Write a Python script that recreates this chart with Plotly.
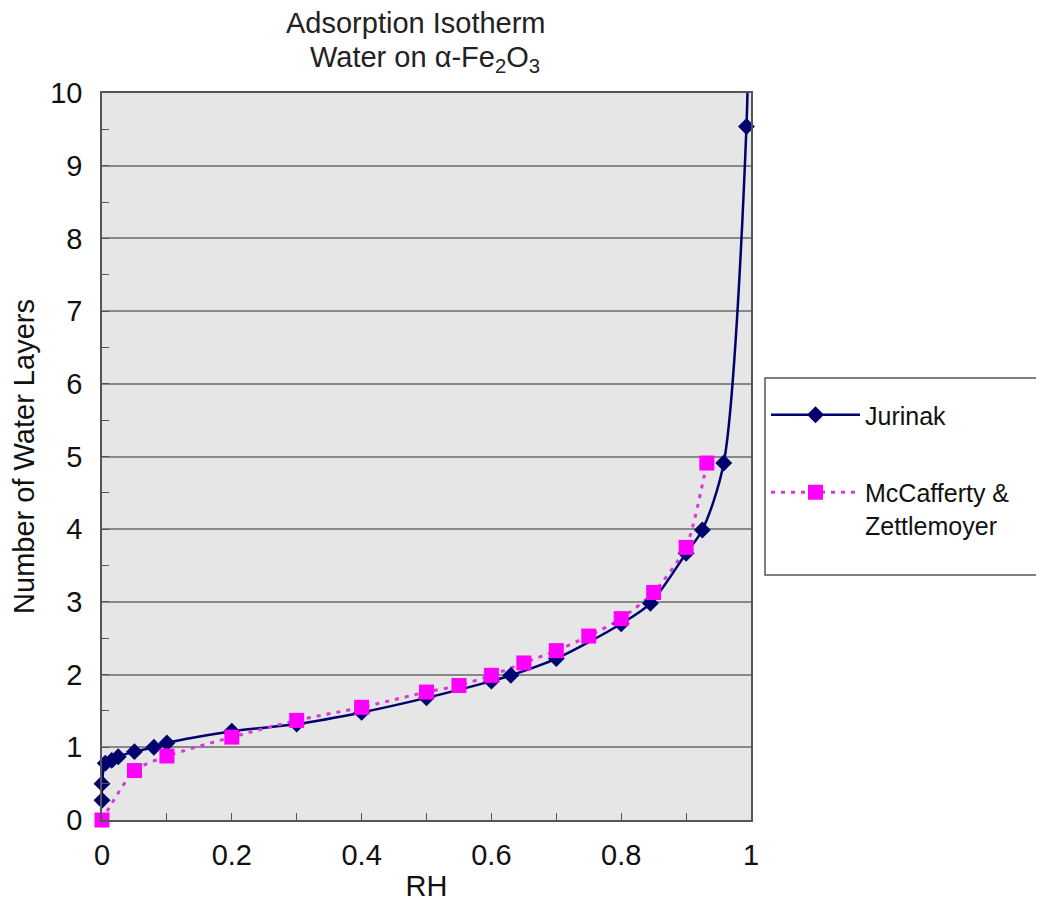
import plotly.graph_objects as go

# Jurinak data
jur_rh = [0.0, 0.0, 0.005, 0.015, 0.025, 0.05, 0.08, 0.1, 0.2, 0.3, 0.4, 0.5,
          0.6, 0.63, 0.7, 0.8, 0.845, 0.9, 0.925, 0.958, 0.993, 0.997]
jur_layers = [0.27, 0.5, 0.78, 0.82, 0.87, 0.94, 1.0, 1.06, 1.22, 1.32, 1.48, 1.68,
              1.91, 1.99, 2.22, 2.7, 2.98, 3.67, 3.99, 4.91, 9.54, 13.0]

# McCafferty & Zettlemoyer data
mcz_rh = [0.0, 0.05, 0.1, 0.2, 0.3, 0.4, 0.5, 0.55, 0.6, 0.65, 0.7, 0.75,
          0.8, 0.85, 0.9, 0.932]
mcz_layers = [0.0, 0.68, 0.88, 1.14, 1.37, 1.55, 1.76, 1.85, 1.99, 2.16, 2.33, 2.53,
              2.77, 3.13, 3.75, 4.91]

x_ticks = [0, 0.2, 0.4, 0.6, 0.8, 1]
x_ticklabels = ["0", "0.2", "0.4", "0.6", "0.8", "1"]
y_ticks = list(range(0, 11))
Y_MAX = 10

title_lines = ["Adsorption Isotherm", "Water on α-Fe<sub>2</sub>O<sub>3</sub>"]

FONT = "Liberation Sans, Arial, sans-serif"
NAVY = "#00006e"
MAG = "#ff00ff"
MAG_LINE = "#d838d8"

# page has an 8px body margin; figure is sized to fill the rest of the window
OFF = 8
W, H = 1044 - OFF, 907 - OFF
# plot-area geometry in page px
L, R, T, B = 102, 751, 93, 820
PW, PH = R - L, B - T


def px_x(p):
    return (p - L) / PW


def px_y(p):
    return (B - p) / PH


jur_vis = [(x, y) for x, y in zip(jur_rh, jur_layers) if y <= Y_MAX]

fig = go.Figure()
# Jurinak smoothed line (clipped to plot area)
fig.add_trace(go.Scatter(
    x=jur_rh, y=jur_layers, mode="lines", showlegend=False, hoverinfo="skip",
    line=dict(color=NAVY, width=2.5, shape="spline", smoothing=0.8),
))
# McCafferty dotted line
fig.add_trace(go.Scatter(
    x=mcz_rh, y=mcz_layers, mode="lines", showlegend=False, hoverinfo="skip",
    line=dict(color=MAG_LINE, width=3, dash="4px,6px", shape="spline", smoothing=0.6),
))
# markers (not clipped at the axes)
fig.add_trace(go.Scatter(
    x=[p[0] for p in jur_vis], y=[p[1] for p in jur_vis], mode="markers",
    showlegend=False, cliponaxis=False,
    marker=dict(symbol="diamond", size=13, color=NAVY),
))
fig.add_trace(go.Scatter(
    x=mcz_rh, y=mcz_layers, mode="markers", showlegend=False, cliponaxis=False,
    marker=dict(symbol="square", size=15, color=MAG),
))
# legend entries
fig.add_trace(go.Scatter(
    x=[None], y=[None], name="Jurinak", mode="lines+markers", legendgroup="a",
    line=dict(color=NAVY, width=2.5),
    marker=dict(symbol="diamond", size=13, color=NAVY),
))
fig.add_trace(go.Scatter(
    x=[None], y=[None], name="McCafferty &<br>Zettlemoyer", mode="lines+markers",
    legendgroup="b",
    line=dict(color=MAG_LINE, width=3, dash="4px,6px"),
    marker=dict(symbol="square", size=15, color=MAG),
))

# legend frame
fig.add_shape(type="rect", xref="paper", yref="paper",
              x0=px_x(765), x1=px_x(1060), y0=px_y(575), y1=px_y(378),
              line=dict(color="#555555", width=1.5), fillcolor="white", layer="below")

# two-line title
fig.add_annotation(text=title_lines[0], xref="paper", yref="paper",
                   x=px_x(416), y=px_y(23), xanchor="center", yanchor="middle",
                   showarrow=False, font=dict(family=FONT, size=29, color="#222222"))
fig.add_annotation(text=title_lines[1], xref="paper", yref="paper",
                   x=px_x(425), y=px_y(59), xanchor="center", yanchor="middle",
                   showarrow=False, font=dict(family=FONT, size=29, color="#222222"))

fig.update_layout(
    width=W, height=H,
    margin=dict(l=L - OFF, r=1044 - R, t=T - OFF, b=907 - B, autoexpand=False),
    paper_bgcolor="white", plot_bgcolor="#e6e6e6",
    font=dict(family=FONT, size=29, color="#111111"),
    showlegend=True,
    legend=dict(x=px_x(766), xanchor="left", y=px_y(392), yanchor="top",
                bgcolor="rgba(0,0,0,0)", borderwidth=0,
                font=dict(family=FONT, size=25, color="#111111"),
                itemwidth=89, tracegroupgap=42, valign="top"),
    xaxis=dict(range=[0, 1], tickvals=x_ticks, ticktext=x_ticklabels,
               showgrid=False, zeroline=False, automargin=False,
               showline=True, linecolor="#555555", linewidth=1.5, mirror=True,
               ticks="inside", ticklen=7, tickcolor="#555555",
               minor=dict(dtick=0.1, ticks="inside", ticklen=7, tickcolor="#555555"),
               tickfont=dict(size=29), ticklabelstandoff=8,
               title=dict(text="RH", font=dict(size=29), standoff=6)),
    yaxis=dict(range=[0, Y_MAX], tickvals=y_ticks,
               showgrid=True, gridcolor="#888888", gridwidth=1.5, zeroline=False,
               automargin=False,
               showline=True, linecolor="#555555", linewidth=1.5, mirror=True,
               ticks="inside", ticklen=7, tickcolor="#555555",
               minor=dict(dtick=0.5, ticks="inside", ticklen=7, tickcolor="#555555"),
               tickfont=dict(size=29), ticklabelstandoff=12,
               title=dict(text="Number of Water Layers", font=dict(size=29), standoff=8)),
)

fig.write_html("out.html")
